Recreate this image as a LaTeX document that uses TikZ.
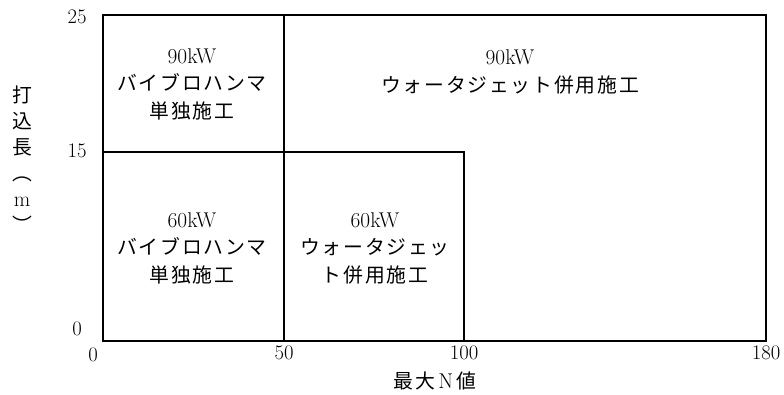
\documentclass[tikz,border=0pt]{standalone}
\usepackage{fontspec}
\newfontfamily\jp[Scale=0.93, LetterSpace=9]{Noto Sans CJK JP}
\usetikzlibrary{positioning}

\begin{document}
\begin{tikzpicture}[x=0.75pt, y=-0.75pt, frame/.style={line width=2pt, line cap=rect}, txt/.style={align=center, inner sep=0pt, font=\fontsize{16}{20.6}\selectfont}, tick/.style={inner sep=0pt, font=\fontsize{15.5}{17}\selectfont}]
  \useasboundingbox (0,0) rectangle (784,394);

  \coordinate (o) at (103,341);
  \coordinate (n50) at (284,341);
  \coordinate (n100) at (464,341);
  \coordinate (n180) at (766,341);
  \coordinate (tl) at (103,15);
  \coordinate (t50) at (284,15);
  \coordinate (tr) at (766,15);
  \coordinate (m0) at (103,152);
  \coordinate (m100) at (464,152);

  % regions
  \draw[frame] (tl) rectangle (n180);
  \draw[frame] (t50) -- (n50);
  \draw[frame] (m0) -- (m100) -- (n100);

  \node[txt] (a90) at (192,84) {90kW\\{\jp バイブロハンマ}\\{\jp 単独施工}};
  \node[txt] (b90) at (510,72) {90kW\\{\jp ウォータジェット併用施工}};
  \node[txt] (a60) at (192,248) {60kW\\{\jp バイブロハンマ}\\{\jp 単独施工}};
  \node[txt] (b60) at (375,248) {60kW\\{\jp ウォータジェッ}\\{\jp ト併用施工}};

  % axes
  \node[tick] (y25) at (77,17) {25};
  \node[tick] (y15) at (77,151) {15};
  \node[tick] (y0) at (77,329) {0};
  \node[tick] (x0) at (93,355) {0};
  \node[tick] (x50) at (284,353) {50};
  \node[tick] (x100) at (464,353) {100};
  \node[tick] (x180) at (766,353) {180};
  \node[txt] (xlab) at (435,381) {{\jp 最大}\,N\,{\jp 値}};
  \node[txt, font=\fontsize{16}{19.5}\selectfont] (ylab) at (22,159) {{\jp 打}\\{\jp 込}\\{\jp 長}\\{\jp ︵}\\m\\{\jp ︶}};
\end{tikzpicture}
\end{document}
